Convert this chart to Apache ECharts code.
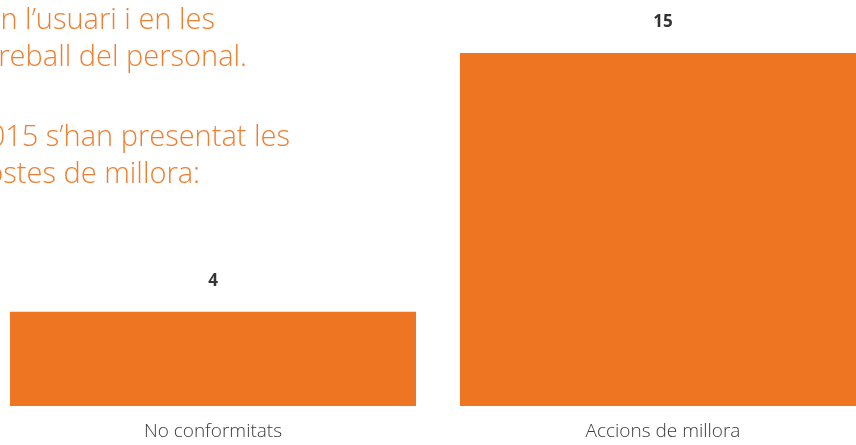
<!DOCTYPE html>
<html>
<head>
<meta charset="utf-8">
<style>
html,body{margin:0;padding:0;background:#fff;overflow:hidden;width:856px;height:445px;position:relative;}
#c{position:absolute;left:-12px;top:0;width:900px;height:445px;}
</style>
<script src="https://cdn.jsdelivr.net/npm/echarts@6/dist/echarts.min.js"></script>
</head>
<body>
<div id="c"></div>
<script>
var categories = ["No conformitats", "Accions de millora"];
var values = [4, 15];
var introLines = ["en l\u2019usuari i en les", "de treball del personal.", "", "2015 s\u2019han presentat les", "propostes de millora:"];

var chart = echarts.init(document.getElementById('c'), null, {renderer: 'canvas'});
var orange = '#EE7623';
var textOrange = '#EF7F30';
var offsetX = 12; // container is shifted left by this much
var lineEnds = [215, 247, 0, 290, 200];
var lineYs = [21, 58, 0, 138, 175];
var graphics = [];
introLines.forEach(function (t, i) {
  if (!t) return;
  graphics.push({
    type: 'text',
    x: lineEnds[i] + offsetX,
    y: lineYs[i],
    style: {
      text: t,
      fill: textOrange,
      font: '300 29px "Open Sans"',
      textAlign: 'right',
      textVerticalAlign: 'middle'
    }
  });
});

chart.setOption({
  animation: false,
  graphic: graphics,
  grid: {left: 0, right: 0, top: 53, bottom: 39, containLabel: false},
  xAxis: {
    type: 'category',
    data: categories,
    axisLine: {show: false},
    axisTick: {show: false},
    axisLabel: {
      margin: 16,
      fontFamily: 'Open Sans',
      fontWeight: 300,
      fontSize: 19,
      color: '#3a3a3a'
    }
  },
  yAxis: {
    type: 'value',
    min: 0,
    max: 15,
    show: false,
    splitLine: {show: false}
  },
  series: [{
    type: 'bar',
    data: values,
    barWidth: 406,
    itemStyle: {color: orange},
    label: {
      show: true,
      position: 'top',
      distance: 22,
      fontFamily: 'Open Sans',
      fontWeight: 'bold',
      fontSize: 17,
      color: '#333333'
    }
  }]
});
</script>
</body>
</html>
